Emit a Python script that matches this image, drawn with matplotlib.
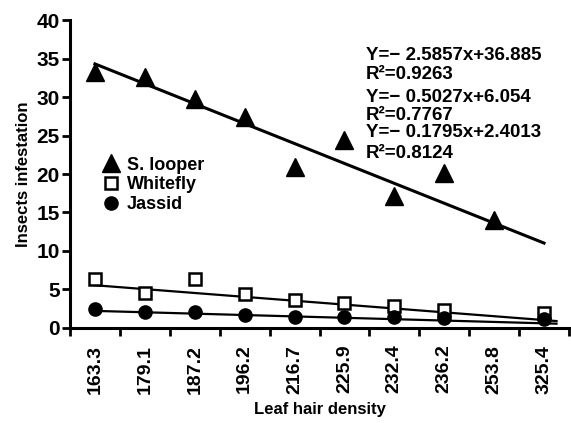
import matplotlib.pyplot as plt
import numpy as np
from matplotlib.lines import Line2D

plt.rcParams['font.family'] = ['Liberation Sans', 'DejaVu Sans']
plt.rcParams['font.weight'] = 'bold'

# Data
densities = ['163.3', '179.1', '187.2', '196.2', '216.7',
             '225.9', '232.4', '236.2', '253.8', '325.4']
looper_idx = [0, 1, 2, 3, 4, 5, 6, 7, 8]
looper = [33.3, 32.6, 29.7, 27.4, 20.9, 24.4, 17.2, 20.1, 14.0]
whitefly_idx = [0, 1, 2, 3, 4, 5, 6, 7, 9]
whitefly = [6.4, 4.5, 6.4, 4.4, 3.6, 3.2, 2.8, 2.4, 2.0]
jassid_idx = [0, 1, 2, 3, 4, 5, 6, 7, 9]
jassid = [2.5, 2.1, 2.1, 1.7, 1.4, 1.4, 1.4, 1.3, 1.2]

# regression lines (slope, intercept) as printed on the chart
fits = {'looper': (-2.5857, 36.885), 'whitefly': (-0.5027, 6.054), 'jassid': (-0.1795, 2.4013)}

fig = plt.figure(figsize=(5.71, 4.23), dpi=100)
ax = fig.add_axes([0.1226, 0.2246, 0.8739, 0.7281])

x = np.arange(len(densities))

# trend lines
for key, x_end, lw in [('looper', 9.0, 2.2), ('whitefly', 9.25, 1.6), ('jassid', 9.25, 1.6)]:
    m, b = fits[key]
    xs = np.array([0.0, x_end])
    ax.plot(xs, m * (xs + 1) + b, color='black', lw=lw, zorder=2)

ax.plot(looper_idx, looper, linestyle='none', marker='^', ms=13, color='black', zorder=3)
ax.plot(whitefly_idx, whitefly, linestyle='none', marker='s', ms=8.5, mfc='white',
        mec='black', mew=1.8, zorder=3)
ax.plot(jassid_idx, jassid, linestyle='none', marker='o', ms=9.5, color='black', zorder=3)

# equations
eqs = [
    ('Y=\u2212 2.5857x+36.885', 0.885),
    ('R\u00b2=0.9263', 0.823),
    ('Y=\u2212 0.5027x+6.054', 0.750),
    ('R\u00b2=0.7767', 0.690),
    ('Y=\u2212 0.1795x+2.4013', 0.635),
    ('R\u00b2=0.8124', 0.568),
]
for txt, yy in eqs:
    ax.text(0.593, yy, txt, transform=ax.transAxes, fontsize=13.5, fontweight='bold',
            va='center', ha='left')

handles = [
    Line2D([], [], linestyle='none', marker='^', ms=13, color='black'),
    Line2D([], [], linestyle='none', marker='s', ms=8.5, mfc='white', mec='black', mew=1.8),
    Line2D([], [], linestyle='none', marker='o', ms=9.5, color='black'),
]
ax.legend(handles, ['S. looper', 'Whitefly', 'Jassid'], loc='upper left',
          bbox_to_anchor=(0.045, 0.58), frameon=False, fontsize=13,
          handletextpad=0.3, labelspacing=0.15, borderaxespad=0, handlelength=1.2)

ax.set_xlim(-0.5, 9.5)
ax.set_ylim(0, 40)
ax.set_yticks(np.arange(0, 41, 5))
ax.set_xticks(x)
ax.set_xticklabels(densities, rotation=90)
ax.set_xticks(np.arange(-0.5, 10, 1), minor=True)
ax.tick_params(axis='x', which='major', length=0, pad=12, labelsize=14)
ax.tick_params(axis='x', which='minor', length=6, width=2, direction='out')
ax.tick_params(axis='y', length=6, width=2, pad=1.5, labelsize=15)

for s in ['top', 'right']:
    ax.spines[s].set_visible(False)
for s in ['left', 'bottom']:
    ax.spines[s].set_linewidth(2.2)

ax.set_xlabel('Leaf hair density', fontsize=12, fontweight='bold', labelpad=6)
ax.set_ylabel('Insects infestation', fontsize=12, fontweight='bold', labelpad=4)

fig.savefig('out.png', dpi=100)
